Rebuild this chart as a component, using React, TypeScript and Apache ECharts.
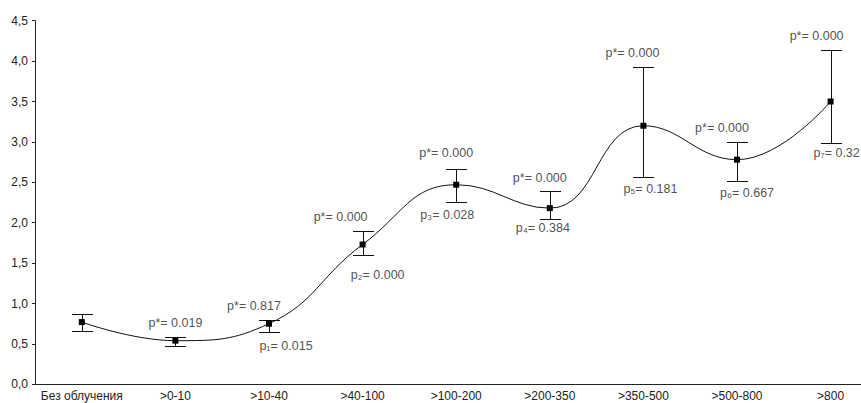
import React, { useEffect, useRef } from "react";
import * as echarts from "echarts";

const categories = [
  "Без облучения",
  ">0-10",
  ">10-40",
  ">40-100",
  ">100-200",
  ">200-350",
  ">350-500",
  ">500-800",
  ">800",
];
const means = [0.77, 0.54, 0.75, 1.73, 2.47, 2.18, 3.2, 2.78, 3.5];
const upper = [0.87, 0.59, 0.8, 1.9, 2.67, 2.39, 3.93, 3.0, 4.14];
const lower = [0.66, 0.48, 0.65, 1.6, 2.26, 2.05, 2.56, 2.51, 2.99];
const pStarLabels = [
  null,
  "p*= 0.019",
  "p*= 0.817",
  "p*= 0.000",
  "p*= 0.000",
  "p*= 0.000",
  "p*= 0.000",
  "p*= 0.000",
  "p*= 0.000",
];
const pLabels = [
  null,
  null,
  "p₁= 0.015",
  "p₂= 0.000",
  "p₃= 0.028",
  "p₄= 0.384",
  "p₅= 0.181",
  "p₆= 0.667",
  "p₇= 0.32",
];
const yTicks = [0, 0.5, 1, 1.5, 2, 2.5, 3, 3.5, 4, 4.5];

// label layout (pixel nudges only)
const starOffsets = [
  [0, 0], [0, 0], [-15, 0], [-22, 0], [-10, -2], [-10, 0], [-11, 0], [-15, 0], [-14, 0],
];
const subOffsets = [
  [0, 0], [0, 0], [17, 3], [15, 8], [-9, 2], [-7, -2], [7, 0], [10, 0], [6, -1],
];

const FONT = "'Liberation Sans', Arial, sans-serif";

export default function App() {
  const ref = useRef<HTMLDivElement>(null);
  useEffect(() => {
    if (!ref.current) return;
    const chart = echarts.init(ref.current, undefined, { renderer: "svg" });
    const starData: any[] = [];
    pStarLabels.forEach((t, i) => {
      if (t) starData.push({ value: [i, upper[i]], name: t, label: { offset: starOffsets[i] } });
    });
    const subData: any[] = [];
    pLabels.forEach((t, i) => {
      if (t) subData.push({ value: [i, lower[i]], name: t, label: { offset: subOffsets[i] } });
    });
    const errData = categories.map((_, i) => [i, upper[i], lower[i]]);
    chart.setOption({
      animation: false,
      backgroundColor: "#ffffff",
      textStyle: { fontFamily: FONT },
      grid: {
        left: 35,
        right: -16.4,
        top: 20.7,
        bottom: 18.7,
        containLabel: false,
        outerBoundsMode: "none",
      },
      xAxis: {
        type: "category",
        data: categories,
        boundaryGap: true,
        axisLine: { lineStyle: { color: "#222", width: 1 } },
        axisTick: { alignWithLabel: true, inside: true, length: 4, lineStyle: { color: "#222" } },
        axisLabel: {
          interval: 0,
          margin: 6,
          fontSize: 12,
          lineHeight: 12,
          color: "#222",
          fontFamily: FONT,
        },
        splitLine: { show: false },
      },
      yAxis: {
        type: "value",
        min: yTicks[0],
        max: yTicks[yTicks.length - 1],
        interval: 0.5,
        axisLine: { show: true, lineStyle: { color: "#222", width: 1 } },
        axisTick: { show: true, inside: false, length: 3, lineStyle: { color: "#222" } },
        axisLabel: {
          margin: 7,
          fontSize: 12,
          color: "#222",
          fontFamily: FONT,
          formatter: (v: number) => v.toFixed(1).replace(".", ","),
        },
        splitLine: { show: false },
      },
      series: [
        {
          type: "custom",
          data: errData,
          z: 2,
          renderItem: (params: any, api: any) => {
            const x = api.value(0);
            const hi = api.coord([x, api.value(1)]);
            const lo = api.coord([x, api.value(2)]);
            const cx = Math.round(hi[0]) + 0.5;
            const hw = 10.5;
            const ty = Math.round(hi[1]) + 0.5;
            const by = Math.round(lo[1]) + 0.5;
            const st = { stroke: "#111", lineWidth: 1 };
            return {
              type: "group",
              children: [
                { type: "line", shape: { x1: cx, y1: ty, x2: cx, y2: by }, style: st },
                { type: "line", shape: { x1: cx - hw, y1: ty, x2: cx + hw, y2: ty }, style: st },
                { type: "line", shape: { x1: cx - hw, y1: by, x2: cx + hw, y2: by }, style: st },
              ],
            };
          },
        },
        {
          type: "line",
          data: means,
          smooth: 0.45,
          z: 3,
          symbol: "rect",
          symbolSize: 6,
          showAllSymbol: true,
          lineStyle: { color: "#111", width: 1 },
          itemStyle: { color: "#000" },
        },
        {
          type: "scatter",
          data: starData,
          symbolSize: 0,
          z: 4,
          label: {
            show: true,
            position: "top",
            distance: 7,
            formatter: (p: any) => p.name,
            fontSize: 12.5,
            color: "#222",
            fontFamily: FONT,
          },
        },
        {
          type: "scatter",
          data: subData,
          symbolSize: 0,
          z: 4,
          label: {
            show: true,
            position: "bottom",
            distance: 5,
            formatter: (p: any) => p.name,
            fontSize: 12.5,
            color: "#222",
            fontFamily: FONT,
          },
        },
      ],
    });
    return () => chart.dispose();
  }, []);
  return (
    <div
      ref={ref}
      style={{ position: "absolute", left: 0, top: 0, width: 861, height: 403 }}
    />
  );
}
